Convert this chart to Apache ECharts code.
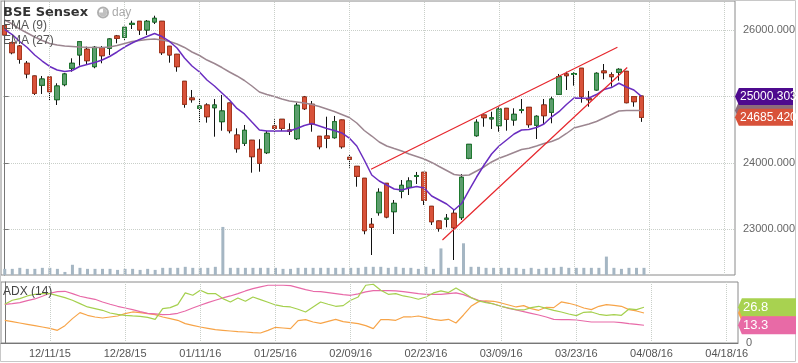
<!DOCTYPE html>
<html>
<head>
<meta charset="utf-8">
<script src="https://cdn.jsdelivr.net/npm/echarts@6/dist/echarts.min.js"></script>
<style>
html,body{margin:0;padding:0;background:#fff;}
#chart{width:798px;height:363px;}
</style>
</head>
<body>
<div id="chart"></div>
<script>
// ---------- data ----------
const categories = [
'12/03/15','12/04/15','12/07/15','12/08/15','12/09/15','12/10/15','12/11/15','12/14/15','12/15/15','12/16/15','12/17/15','12/18/15','12/21/15','12/22/15','12/23/15','12/24/15','12/28/15','12/29/15','12/30/15','12/31/15',
'01/01/16','01/04/16','01/05/16','01/06/16','01/07/16','01/08/16','01/11/16','01/12/16','01/13/16','01/14/16','01/15/16','01/18/16','01/19/16','01/20/16','01/21/16','01/22/16','01/25/16','01/27/16','01/28/16','01/29/16',
'02/01/16','02/02/16','02/03/16','02/04/16','02/05/16','02/08/16','02/09/16','02/10/16','02/11/16','02/12/16','02/15/16','02/16/16','02/17/16','02/18/16','02/19/16','02/22/16','02/23/16','02/24/16','02/25/16','02/26/16','02/29/16',
'03/01/16','03/02/16','03/03/16','03/04/16','03/08/16','03/09/16','03/10/16','03/11/16','03/14/16','03/15/16','03/16/16','03/17/16','03/18/16','03/21/16','03/22/16','03/23/16','03/28/16','03/29/16','03/30/16','03/31/16',
'04/01/16','04/04/16','04/05/16','04/06/16','04/07/16','04/08/16','04/09/16','04/10/16','04/11/16','04/12/16','04/13/16','04/14/16','04/15/16','04/16/16','04/17/16','04/18/16','04/19/16'
];
const labelDates = ['12/11/15','12/28/15','01/11/16','01/25/16','02/09/16','02/23/16','03/09/16','03/23/16','04/08/16','04/18/16'];
const priceTicks = [23000, 24000, 25000, 26000];
const adxTicks = [0];

const open = [26065,25809,25759,25499,25308,25168,25293,24951,25177,25424,
25624,25710,25448,25734,25725,25910,25890,26085,26131,26000,
26120,26131,25755,25634,25228,24976,24821,24871,24830,24620,
24901,24419,24295,24340,24204,24153,24555,24656,24495,24364,
24992,24882,24400,24404,24379,24645,24084,23948,23768,23075,
23250,23692,23265,23572,23632,23795,23858,23346,23125,23152,
23241,23175,24069,24409,24720,24662,24559,24821,24645,24788,
24836,24566,24871,24761,25032,25338,25330,25424,24965,25097,
25383,25327,25363,25378,24996,25006];
const high = [26075,25824,25774,25533,25312,25308,25308,25198,25353,25574,
25834,25749,25759,25759,25875,25925,26065,26140,26135,26150,
26215,26136,25760,25640,25232,25097,24961,24897,24961,25022,
24905,24520,24570,24345,24355,24480,24656,24660,24596,24906,
25007,24931,24404,24695,24706,24650,24118,23953,23772,23170,
23617,23697,23441,23742,23783,23863,23863,23351,23130,23230,
23291,23832,24284,24656,24725,24770,24836,24826,24821,24961,
24841,24716,24961,24996,25338,25372,25363,25428,25082,25363,
25488,25363,25424,25383,25000,25010];
const low = [25910,25634,25493,25273,25022,25037,24936,24871,25153,25372,
25463,25484,25424,25499,25624,25800,25850,26015,25925,25925,
26090,25624,25508,25372,24830,24906,24605,24605,24394,24484,
24445,24153,24254,23852,23867,24133,24445,24480,24419,24344,
24796,24469,24204,24221,24364,24213,23927,23641,22925,22613,
23205,23166,22929,23467,23516,23682,23366,23065,22964,23030,
22538,23140,24054,24394,24544,24510,24469,24484,24559,24746,
24529,24359,24570,24596,25022,25097,25162,24906,24845,25086,
25258,25147,25237,24897,24845,24617];
const close = [25925,25658,25559,25338,25047,25262,25071,25157,25338,25499,
25824,25538,25740,25613,25865,25875,26041,26100,26000,26131,
26176,25658,25624,25448,24882,24951,24856,24695,24871,24781,
24484,24213,24490,24093,23994,24445,24520,24520,24475,24867,
24815,24585,24243,24370,24620,24243,24054,23798,22979,23030,
23557,23185,23391,23662,23727,23810,23437,23114,23015,23167,
23024,23783,24279,24611,24680,24678,24811,24656,24731,24800,
24575,24701,24710,24961,25297,25312,25345,24996,24950,25348,
25357,25297,25408,24906,24921,24685.42];
const volume = [18,18,21,18,18,21,21,18,9,30,
21,18,18,18,18,15,18,18,15,18,
15,21,21,21,24,21,21,21,24,141,
21,21,21,21,21,21,21,18,18,21,
21,21,21,21,21,21,21,21,24,24,
24,21,24,21,21,18,24,18,78,21,
24,93,24,24,21,21,21,21,21,18,
21,18,21,21,24,21,21,21,21,21,
54,21,18,21,21,21];
const ema9 = [26007,25932,25827,25737,25624,25533,25451,25398,25375,25390,
25451,25481,25511,25548,25601,25669,25744,25804,25857,25902,
25947,25902,25827,25729,25578,25458,25368,25247,25157,25052,
24946,24819,24736,24615,24495,24480,24480,24480,24480,24517,
24562,24592,24555,24517,24487,24450,24374,24254,24043,23817,
23727,23667,23607,23591,23622,23644,23622,23501,23441,23381,
23290,23388,23591,23787,23968,24133,24254,24344,24434,24495,
24502,24532,24585,24690,24770,24879,24976,24972,24976,25029,
25104,25134,25198,25142,25097,25000.303];
const ema27 = [26150,26090,26015,25955,25895,25842,25797,25774,25759,25752,
25744,25740,25737,25737,25744,25767,25797,25827,25842,25857,
25864,25850,25827,25789,25737,25669,25616,25548,25496,25435,
25368,25308,25240,25157,25067,25029,24999,24961,24931,24916,
24901,24879,24848,24811,24773,24728,24683,24600,24487,24404,
24314,24254,24216,24179,24133,24096,24058,24006,23945,23885,
23825,23810,23817,23877,23938,24013,24069,24111,24156,24201,
24219,24254,24291,24322,24367,24442,24525,24555,24585,24623,
24675,24728,24781,24788,24788,24788];
const adxGreen = [29,32,33.25,35.25,36.5,37,37,35.5,34,32,
29.5,27,25.75,24.5,22.5,21.5,20.75,20.25,20,19.25,
17.75,25.75,26.5,28.75,37.5,35.75,39.5,37,37,33.25,
30.75,33.75,31.25,34.5,32.5,30.5,28.5,27.5,27,25.25,
23.25,27,30.75,29,27.5,28,32,34.5,43.25,44,
39.5,36.5,37,35.25,34.25,32.75,34.5,37.5,39,37.75,
41.25,37.75,34,31.5,30.25,29.25,27.5,26.25,25,24.75,
26.5,27.5,26,24.5,23.25,21.75,20.5,23,23.25,21.5,
20.75,21.25,20.75,25.5,25,26.8];
const adxPink = [29,29.5,30.25,31.75,33,35,37.25,38.5,38.75,37,
35,33.75,32.75,30.75,29,27.5,26.25,25,23.5,22.25,
21.75,21.25,21.5,22.25,24,26.25,28.25,30.25,32,33.75,
35.25,37,39,40.75,42,43.25,43.25,43.25,43,41.5,
40,38.75,38.5,37.75,37,36.25,35.75,36.75,38.25,39.25,
39.25,39.25,39,38.5,37.75,37,36.5,36.5,36.5,37,
37.5,36.25,34,32,30.75,29.25,27.5,26,24.75,23.5,
22.25,21,19.5,17.75,17.5,17.5,17.25,16.5,15.75,15.75,
15.75,15.75,15.25,14.5,14,13.3];
const adxOrange = [17,16,15,14,13,12,11,9.5,13,18.25,
22.75,20.75,19.5,18.75,19.5,20.25,22,23.25,22.75,22,
21.25,19.5,18.25,17,14.5,13.25,12,11,10,9.5,
9,8.5,8.25,7.75,7.5,9.5,11.75,11.25,10.75,16.75,
17.5,15.75,14.75,16.25,17.75,16,15.25,14.5,13,10.75,
17.5,17.5,17,19.5,19.5,20.25,19,17.75,17,17.75,
15,21,27.5,31,31.5,31.25,30,28.5,27,28,
25.75,24.5,26.75,26.5,30.75,29.75,28.25,26.25,25,27.5,
28.75,28.25,27.5,25,24,22.5];
// trendlines: [slot position, price]
const upperTrend = [[48.9, 23903], [81.8, 25740]];
const lowerTrend = [[58.44, 22839], [83.11, 25436]];

// ---------- chart ----------
const FONT = "'Liberation Sans', Arial, sans-serif";
const chart = echarts.init(document.getElementById('chart'), null, {renderer: 'canvas'});
const N = categories.length;
const xEnd = N - 0.5;

const candleFull = open.map((o, i) => [o, close[i], low[i], high[i]]);
const candleBody = open.map((o, i) => [o, close[i], Math.min(o, close[i]), Math.max(o, close[i])]);
const last = a => a[a.length - 1];

function tagSeries(xIdx, yIdx, value, color, text, z, fontSize, h) {
  return {
    type: 'scatter', xAxisIndex: xIdx, yAxisIndex: yIdx, z: z, clip: false, silent: true,
    data: [[xEnd, value]],
    symbol: 'path://M0,8 L4,0 L60,0 L60,16 L4,16 Z',
    symbolSize: [58, h], symbolKeepAspect: false, symbolOffset: [29, 0],
    itemStyle: {color: color, opacity: 1},
    label: {show: text !== '', position: 'insideLeft', distance: 5, formatter: text,
      color: '#fff', fontSize: fontSize, fontFamily: FONT},
    emphasis: {disabled: true}
  };
}

const gridLineStyle = {type: 'dotted', color: '#c9cfc9', width: 1};

const option = {
  animation: false,
  backgroundColor: '#ffffff',
  textStyle: {fontFamily: FONT},
  grid: [
    {left: 1, right: 60, top: 1, height: 274, show: true, borderColor: '#8a8a8a', borderWidth: 1, backgroundColor: 'transparent'},
    {left: 1, right: 60, top: 215, height: 60, show: false},
    {left: 1, right: 60, top: 282, height: 61, show: true, borderColor: '#8a8a8a', borderWidth: 1}
  ],
  xAxis: [
    {type: 'category', gridIndex: 0, data: categories, boundaryGap: true,
     axisLine: {show: false}, axisTick: {show: false}, axisLabel: {show: false}, splitLine: {show: false}},
    {type: 'value', gridIndex: 0, min: -0.5, max: xEnd, show: false},
    {type: 'category', gridIndex: 1, data: categories, boundaryGap: true, show: false},
    {type: 'category', gridIndex: 2, data: categories, boundaryGap: true,
     axisLine: {show: true, lineStyle: {color: '#777'}}, axisTick: {show: false},
     axisLabel: {show: true, interval: (i, v) => labelDates.includes(v), color: '#555', fontSize: 11, margin: 5, fontFamily: FONT},
     splitLine: {show: false}},
    {type: 'value', gridIndex: 2, min: -0.5, max: xEnd, show: false}
  ],
  yAxis: [
    {type: 'value', gridIndex: 0, position: 'right', min: 22312, max: 26436.5, scale: true,
     axisLine: {show: true, lineStyle: {color: '#777'}},
     axisTick: {show: true, length: 4, lineStyle: {color: '#777'}, customValues: priceTicks},
     axisLabel: {show: true, customValues: priceTicks, formatter: v => v.toFixed(3), color: '#666', fontSize: 11, margin: 8, fontFamily: FONT},
     splitLine: {show: true, lineStyle: gridLineStyle}},
    {type: 'value', gridIndex: 1, min: 0, max: 176, show: false},
    {type: 'value', gridIndex: 2, position: 'right', min: 0, max: 45.7,
     axisLine: {show: true, lineStyle: {color: '#777'}},
     axisTick: {show: false, customValues: adxTicks},
     axisLabel: {show: true, customValues: adxTicks, formatter: v => String(v), color: '#666', fontSize: 11, margin: 8, fontFamily: FONT},
     splitLine: {show: false}}
  ],
  series: [
    {type: 'line', xAxisIndex: 0, yAxisIndex: 0, data: [], z: 0, silent: true,
     markLine: {silent: true, symbol: ['none', 'none'], label: {show: false}, lineStyle: gridLineStyle,
       data: labelDates.map(d => ({xAxis: d}))}},
    {type: 'line', xAxisIndex: 3, yAxisIndex: 2, data: [], z: 0, silent: true,
     markLine: {silent: true, symbol: ['none', 'none'], label: {show: false}, lineStyle: gridLineStyle,
       data: labelDates.map(d => ({xAxis: d}))}},
    {type: 'bar', xAxisIndex: 2, yAxisIndex: 1, data: volume, barWidth: 3, z: 1,
     itemStyle: {color: '#a5b6c3'}, silent: true},
    {type: 'candlestick', xAxisIndex: 0, yAxisIndex: 0, data: candleFull, barWidth: 5, z: 2, silent: true,
     itemStyle: {color: '#5c9d6d', color0: '#d8523a', borderColor: '#111', borderColor0: '#111', borderWidth: 1}},
    {type: 'candlestick', xAxisIndex: 0, yAxisIndex: 0, data: candleBody, barWidth: 5, z: 3, silent: true,
     itemStyle: {color: '#5c9d6d', color0: '#d8523a', borderColor: '#1f7a30', borderColor0: '#a9381f', borderWidth: 1}},
    {type: 'line', xAxisIndex: 0, yAxisIndex: 0, data: ema27, showSymbol: false, z: 4, silent: true,
     lineStyle: {color: '#9c8690', width: 1.5}},
    {type: 'line', xAxisIndex: 0, yAxisIndex: 0, data: ema9, showSymbol: false, z: 4, silent: true,
     lineStyle: {color: '#6a2dc0', width: 1.5}},
    {type: 'line', xAxisIndex: 1, yAxisIndex: 0, data: upperTrend, showSymbol: false, z: 5, silent: true,
     lineStyle: {color: '#e6262c', width: 1.2}},
    {type: 'line', xAxisIndex: 1, yAxisIndex: 0, data: lowerTrend, showSymbol: false, z: 5, silent: true,
     lineStyle: {color: '#e6262c', width: 1.2}},
    {type: 'line', xAxisIndex: 3, yAxisIndex: 2, data: adxOrange, showSymbol: false, z: 4, silent: true,
     lineStyle: {color: '#f7a448', width: 1.2}},
    {type: 'line', xAxisIndex: 3, yAxisIndex: 2, data: adxPink, showSymbol: false, z: 4, silent: true,
     lineStyle: {color: '#e86aa8', width: 1.2}},
    {type: 'line', xAxisIndex: 3, yAxisIndex: 2, data: adxGreen, showSymbol: false, z: 4, silent: true,
     lineStyle: {color: '#a5d04e', width: 1.2}},
    tagSeries(1, 0, last(ema27), '#8c6c7c', '', 10, 12, 18),
    tagSeries(1, 0, last(ema9), '#4e0a8e', last(ema9).toFixed(3), 11, 12, 17),
    tagSeries(1, 0, last(close), '#d8523a', last(close).toFixed(3), 12, 12, 17),
    tagSeries(4, 2, last(adxOrange), '#f7a448', '', 10, 13, 18),
    tagSeries(4, 2, last(adxGreen), '#a8d250', last(adxGreen).toFixed(1), 11, 13, 18),
    tagSeries(4, 2, last(adxPink), '#e86aa6', last(adxPink).toFixed(1), 12, 13, 18)
  ],
  graphic: [
    {type: 'rect', shape: {x: 0.5, y: 0.5, width: 795, height: 361}, style: {fill: 'none', stroke: '#c8c8c8', lineWidth: 1}, z: 0, silent: true},
    {type: 'text', x: 3, y: 12.5, z: 20, style: {text: 'BSE Sensex', font: "bold 13px 'DejaVu Sans', sans-serif", fill: '#333', verticalAlign: 'middle'}},
    {type: 'circle', shape: {cx: 103, cy: 12.5, r: 5}, style: {fill: 'none', stroke: '#b0b0b0', lineWidth: 2}, z: 20},
    {type: 'sector', shape: {cx: 103, cy: 12.5, r: 4, r0: 0, startAngle: -Math.PI / 2, endAngle: Math.PI}, style: {fill: '#c0c0c0'}, z: 20},
    {type: 'text', x: 112, y: 12.5, z: 20, style: {text: 'day', font: "12px 'Liberation Sans', Arial, sans-serif", fill: '#aaa', verticalAlign: 'middle'}},
    {type: 'text', x: 3, y: 25.5, z: 20, style: {text: 'EMA (9)', font: "12px 'Liberation Sans', Arial, sans-serif", fill: '#555', verticalAlign: 'middle'}},
    {type: 'text', x: 3, y: 40.5, z: 20, style: {text: 'EMA (27)', font: "12px 'Liberation Sans', Arial, sans-serif", fill: '#555', verticalAlign: 'middle'}},
    {type: 'text', x: 3, y: 291.5, z: 20, style: {text: 'ADX (14)', font: "12px 'Liberation Sans', Arial, sans-serif", fill: '#444', verticalAlign: 'middle'}}
  ]
};
chart.setOption(option);
</script>
</body>
</html>
